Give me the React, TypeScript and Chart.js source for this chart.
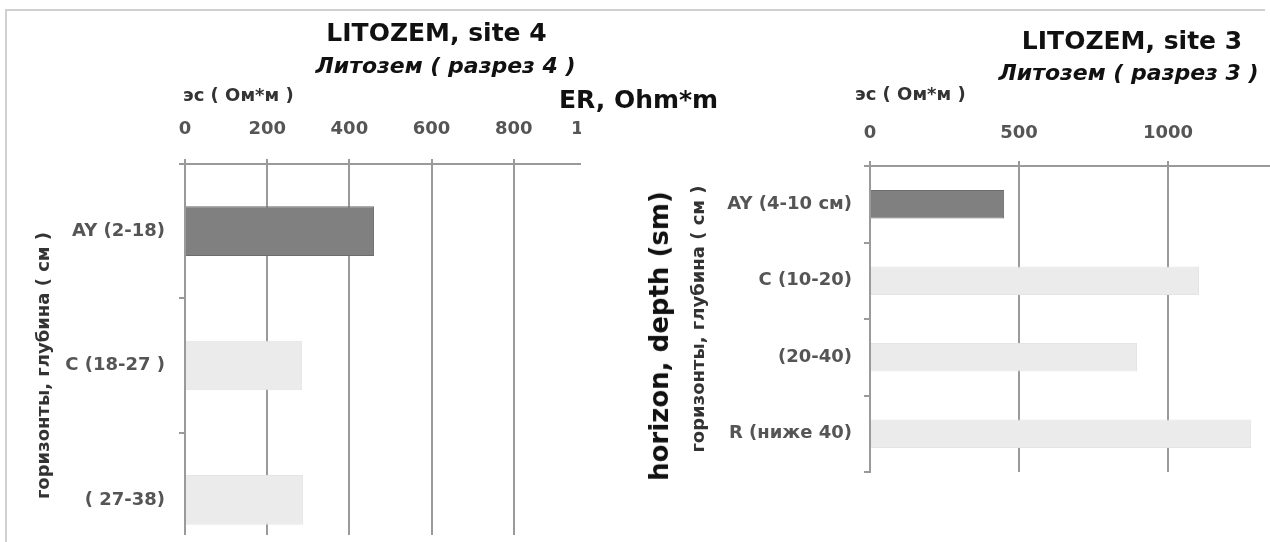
import React, { useEffect, useRef } from "react";
import { Chart, registerables } from "chart.js";

Chart.register(...registerables);

// ---------- data ----------
const leftCategories = ["AY (2-18)", "C (18-27 )", "( 27-38)"];
const leftValues = [460, 285, 287];
const leftMax = 1000;
const leftStep = 200;

const rightCategories = ["AY (4-10 см)", "C (10-20)", "(20-40)", "R (ниже 40)"];
const rightValues = [450, 1104, 896, 1279];
const rightMax = 1500;
const rightStep = 500;

const leftBarColors = ["#808080", "#ebebeb", "#ebebeb"];
const leftBarBorders = ["#6c6c6c", "#e4e4e4", "#e4e4e4"];
const rightBarColors = ["#808080", "#ebebeb", "#ebebeb", "#ebebeb"];
const rightBarBorders = ["#6c6c6c", "#e4e4e4", "#e4e4e4", "#e4e4e4"];

const yAxisTitle = "горизонты, глубина ( см )";

const FONT = "'DejaVu Sans', sans-serif";
const GRID = "#9a9a9a";
const SMALL = 18;

type Cfg = {
  labels: string[];
  values: number[];
  colors: string[];
  borders: string[];
  max: number;
  step: number;
  padding: { left: number; top: number; right: number; bottom: number };
  xHeight: number;
  yWidth: number;
  xTickPad: number;
  yTickPad: number;
};

function makeConfig(c: Cfg): any {
  return {
    type: "bar",
    data: {
      labels: c.labels,
      datasets: [
        {
          data: c.values,
          backgroundColor: c.colors,
          borderColor: c.borders,
          borderWidth: 1,
          categoryPercentage: 1,
          barPercentage: 0.37,
        },
      ],
    },
    options: {
      indexAxis: "y",
      responsive: false,
      animation: false,
      devicePixelRatio: 1,
      layout: { padding: c.padding },
      plugins: { legend: { display: false }, tooltip: { enabled: false }, title: { display: false } },
      scales: {
        x: {
          type: "linear",
          position: "top",
          min: 0,
          max: c.max,
          ticks: {
            stepSize: c.step,
            color: "#555",
            font: { family: FONT, size: SMALL, weight: "bold" },
            padding: c.xTickPad,
            maxRotation: 0,
            callback: (v: any) => String(v),
          },
          grid: { color: GRID, lineWidth: 2, tickLength: 5, drawTicks: true },
          border: { display: true, color: GRID, width: 2 },
          afterFit: (s: any) => {
            s.height = c.xHeight;
          },
        },
        y: {
          type: "category",
          ticks: {
            color: "#555",
            font: { family: FONT, size: SMALL, weight: "bold" },
            padding: c.yTickPad,
          },
          grid: { drawOnChartArea: false, drawTicks: true, tickLength: 6, color: GRID, lineWidth: 2, offset: true },
          border: { display: true, color: GRID, width: 2 },
          title: {
            display: true,
            text: yAxisTitle,
            color: "#333",
            font: { family: FONT, size: SMALL, weight: "bold" },
            padding: { top: 10, bottom: 0 },
          },
          afterFit: (s: any) => {
            s.width = c.yWidth;
          },
        },
      },
    },
  };
}

function Text(props: {
  x: number;
  y: number;
  size: number;
  text: string;
  italic?: boolean;
  anchor?: "center" | "start";
  color?: string;
  rotate?: boolean;
}) {
  const { x, y, size, text, italic, anchor = "center", color = "#111", rotate } = props;
  const tx = anchor === "center" ? "-50%" : "0";
  return (
    <div
      style={{
        position: "absolute",
        left: x,
        top: y,
        transform: `translate(${tx},-50%)${rotate ? " rotate(-90deg)" : ""}`,
        fontFamily: FONT,
        fontWeight: "bold",
        fontStyle: italic ? "italic" : "normal",
        fontSize: size,
        lineHeight: 1,
        color,
        whiteSpace: "nowrap",
      }}
    >
      {text}
    </div>
  );
}

export default function App() {
  const leftRef = useRef<HTMLCanvasElement | null>(null);
  const rightRef = useRef<HTMLCanvasElement | null>(null);

  useEffect(() => {
    const left = new Chart(
      leftRef.current as HTMLCanvasElement,
      makeConfig({
        labels: leftCategories,
        values: leftValues,
        colors: leftBarColors,
        borders: leftBarBorders,
        max: leftMax,
        step: leftStep,
        padding: { left: 24, top: 74, right: 38, bottom: 30 },
        xHeight: 90,
        yWidth: 161,
        xTickPad: 19,
        yTickPad: 14,
      })
    );
    const right = new Chart(
      rightRef.current as HTMLCanvasElement,
      makeConfig({
        labels: rightCategories,
        values: rightValues,
        colors: rightBarColors,
        borders: rightBarBorders,
        max: rightMax,
        step: rightStep,
        padding: { left: 79, top: 76, right: 43, bottom: 70 },
        xHeight: 90,
        yWidth: 191,
        xTickPad: 17,
        yTickPad: 12,
      })
    );
    return () => {
      left.destroy();
      right.destroy();
    };
  }, []);

  return (
    <div
      style={{
        position: "fixed",
        left: 0,
        top: 0,
        width: 1270,
        height: 542,
        overflow: "hidden",
        background: "#fff",
      }}
    >
      <div
        style={{
          position: "absolute",
          left: 5,
          top: 9,
          width: 1258,
          height: 600,
          borderLeft: "2px solid #d0d0d0",
          borderTop: "2px solid #d0d0d0",
        }}
      />
      <div style={{ position: "absolute", left: 0, top: 0, width: 581, height: 535, overflow: "hidden" }}>
        <canvas ref={leftRef} width={640} height={597} style={{ display: "block", width: 640, height: 597 }} />
      </div>
      <div style={{ position: "absolute", left: 600, top: 0, width: 670, height: 542, overflow: "hidden" }}>
        <canvas ref={rightRef} width={760} height={542} style={{ display: "block", width: 760, height: 542 }} />
      </div>

      <Text x={436.5} y={31.5} size={25} text="LITOZEM, site 4" />
      <Text x={445.5} y={66} size={22} italic text="Литозем ( разрез 4 )" />
      <Text x={183} y={95} size={SMALL} anchor="start" color="#333" text="эс ( Ом*м )" />
      <Text x={638.5} y={99} size={25} text="ER, Ohm*m" />

      <Text x={1132} y={40} size={25} text="LITOZEM, site 3" />
      <Text x={1128.5} y={73} size={22} italic text="Литозем ( разрез 3 )" />
      <Text x={855} y={94} size={SMALL} anchor="start" color="#333" text="эс ( Ом*м )" />

      <Text x={659} y={336} size={26} rotate text="horizon, depth (sm)" />
    </div>
  );
}
